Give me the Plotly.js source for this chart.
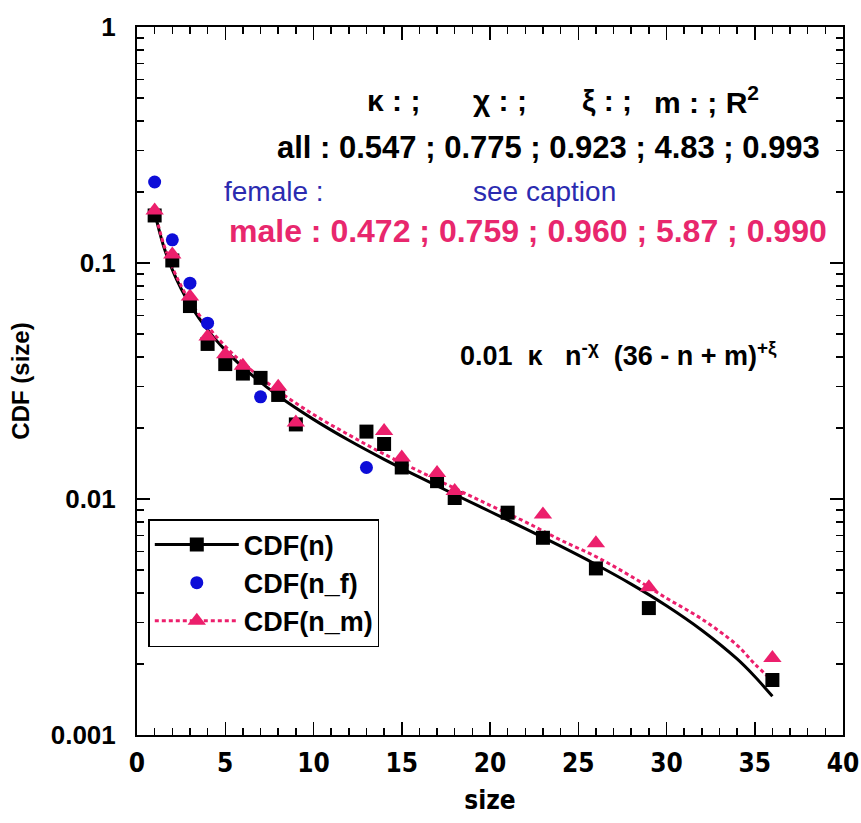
<!DOCTYPE html>
<html>
<head>
<meta charset="utf-8">
<script src="https://cdn.plot.ly/plotly-3.0.1.min.js"></script>
<style>
html,body{margin:0;padding:0;background:#fff;}
#chart{width:861px;height:823px;}
</style>
</head>
<body>
<div id="chart"></div>
<script>
// ---- data ----
var sizeAll = [1, 2, 3, 4, 5, 6, 7, 8, 9, 13, 14, 15, 17, 18, 21, 23, 26, 29, 36];
var cdfAll  = [0.159, 0.1025, 0.0657, 0.0454, 0.0373, 0.0340, 0.0326, 0.0276, 0.0207, 0.0193, 0.0171, 0.0136, 0.0119, 0.0101, 0.00875, 0.00685, 0.00508, 0.00345, 0.00171];

var sizeF = [1, 2, 3, 4, 7, 13];
var cdfF  = [0.2204, 0.1254, 0.0821, 0.0556, 0.0271, 0.0136];

var sizeM = [1, 2, 3, 4, 5, 6, 8, 9, 14, 15, 17, 18, 23, 26, 29, 36];
var cdfM  = [0.167, 0.1086, 0.0721, 0.0488, 0.0411, 0.0367, 0.0299, 0.0211, 0.0194, 0.0150, 0.0129, 0.0108, 0.0086, 0.0065, 0.00423, 0.00212];

// fitted curves as drawn
var fitSize = [1, 1.5, 2, 2.5, 3, 4, 5, 6, 8, 10, 12, 14, 16, 18, 20, 22, 24, 26, 28, 30, 32, 34, 35, 36];
var fitAll  = [0.164, 0.1184, 0.0937, 0.0778, 0.0668, 0.0521, 0.04275, 0.03615, 0.02738, 0.02175, 0.01774, 0.01473, 0.01237, 0.01045, 0.00885, 0.00749, 0.00631, 0.00528, 0.00436, 0.00353, 0.00278, 0.00210, 0.00177, 0.00146];
var fitMale = [0.1663, 0.1208, 0.0960, 0.0800, 0.0688, 0.0540, 0.0444, 0.0377, 0.0287, 0.0228, 0.0187, 0.0155, 0.0131, 0.0111, 0.0094, 0.0080, 0.0067, 0.0057, 0.0047, 0.0038, 0.0031, 0.0024, 0.0020, 0.0017];

var xTicks = [0, 5, 10, 15, 20, 25, 30, 35, 40];
var yTicks = [0.001, 0.01, 0.1, 1];
var yTickText = ["0.001", "0.01", "0.1", "1"];
var yMinor = [0.002,0.003,0.004,0.005,0.006,0.007,0.008,0.009,
              0.02,0.03,0.04,0.05,0.06,0.07,0.08,0.09,
              0.2,0.3,0.4,0.5,0.6,0.7,0.8,0.9];

var legendNames = ["CDF(n)", "CDF(n_f)", "CDF(n_m)"];

var BLACK = "#000000", BLUE = "#0d0dd8", PINK = "#ec1f6c";
var BLUE_TXT = "#2b2bb0", PINK_TXT = "#e8276d";
var NB = "\u00A0";

var traces = [
  {x: fitSize, y: fitAll, mode: "lines", line: {color: BLACK, width: 3, shape: "spline"}, showlegend: false, hoverinfo: "skip"},
  {x: fitSize, y: fitMale, mode: "lines", line: {color: PINK, width: 3, dash: "4px,3px", shape: "spline"}, showlegend: false, hoverinfo: "skip"},
  {x: sizeAll, y: cdfAll, mode: "markers", marker: {symbol: "square", size: 14, color: BLACK}, showlegend: false},
  {x: sizeM, y: cdfM, mode: "markers", marker: {symbol: "triangle-up", size: 16, color: PINK}, showlegend: false},
  {x: sizeF, y: cdfF, mode: "markers", marker: {symbol: "circle", size: 13, color: BLUE}, showlegend: false},
  // legend entries
  {x: [null], y: [null], name: legendNames[0], mode: "lines+markers", line: {color: BLACK, width: 3}, marker: {symbol: "square", size: 14, color: BLACK}},
  {x: [null], y: [null], name: legendNames[1], mode: "markers", marker: {symbol: "circle", size: 13, color: BLUE}},
  {x: [null], y: [null], name: legendNames[2], mode: "lines+markers", line: {color: PINK, width: 3, dash: "4px,3px"}, marker: {symbol: "triangle-up", size: 16, color: PINK}}
];

function f(c, s, w) { return {family: "Liberation Sans, Arial, sans-serif", size: s || 30, color: c, weight: w || "bold"}; }
var yRow1 = Math.log10(0.49), yRow2 = Math.log10(0.31), yRow3 = Math.log10(0.2), yRow4 = Math.log10(0.136);

var annotations = [
  {x: 12.9, y: yRow1, xref: "x", yref: "y", text: "κ" + NB + ": ;", showarrow: false, xanchor: "left", font: f(BLACK, 30)},
  {x: 18.9, y: yRow1, xref: "x", yref: "y", text: "χ" + NB + ": ;", showarrow: false, xanchor: "left", font: f(BLACK, 30)},
  {x: 25.1, y: yRow1, xref: "x", yref: "y", text: "ξ" + NB + ": ;", showarrow: false, xanchor: "left", font: f(BLACK, 30)},
  {x: 29.2, y: yRow1, xref: "x", yref: "y", text: "m" + NB + ": ; R<sup>2</sup>", showarrow: false, xanchor: "left", font: f(BLACK, 30)},
  {x: 38.8, y: yRow2, xref: "x", yref: "y", text: "all : 0.547 ; 0.775 ; 0.923 ; 4.83 ; 0.993", showarrow: false, xanchor: "right", font: f(BLACK, 31)},
  {x: 4.8, y: yRow3, xref: "x", yref: "y", text: "female :", showarrow: false, xanchor: "left", font: f(BLUE_TXT, 28, "normal")},
  {x: 18.9, y: yRow3, xref: "x", yref: "y", text: "see caption", showarrow: false, xanchor: "left", font: f(BLUE_TXT, 28, "normal")},
  {x: 39.2, y: yRow4, xref: "x", yref: "y", text: "male : 0.472 ; 0.759 ; 0.960 ; 5.87 ; 0.990", showarrow: false, xanchor: "right", font: f(PINK_TXT, 32)},
  {x: 18.2, y: Math.log10(0.041), xref: "x", yref: "y",
   text: "0.01" + NB + NB + "κ" + NB + NB + NB + "n<sup>-χ</sup>" + NB + NB + "(36 - n + m)<sup>+ξ</sup>",
   showarrow: false, xanchor: "left", font: f(BLACK, 27)}
];

var layout = {
  width: 861, height: 823,
  margin: {l: 137, r: 18, t: 27, b: 88},
  paper_bgcolor: "#ffffff", plot_bgcolor: "#ffffff",
  showlegend: true,
  legend: {
    x: 0.016, y: 0.305, xanchor: "left", yanchor: "top",
    bgcolor: "#ffffff", bordercolor: BLACK, borderwidth: 1.5,
    font: {family: "Liberation Sans, Arial, sans-serif", size: 27, color: BLACK, weight: "bold"},
    itemwidth: 84, tracegroupgap: 0
  },
  xaxis: {
    range: [0, 40], tickmode: "array", tickvals: xTicks, ticktext: xTicks.map(String),
    ticks: "inside", ticklen: 13, tickwidth: 1.5, tickcolor: BLACK,
    minor: {dtick: 1, tick0: 0, ticks: "inside", ticklen: 7, tickwidth: 1.5, tickcolor: BLACK},
    showline: true, linewidth: 2, linecolor: BLACK, mirror: "ticks",
    showgrid: false, zeroline: false, ticklabelstandoff: 4,
    tickfont: {family: "Liberation Sans Narrow, DejaVu Sans Condensed, Liberation Sans, Arial, sans-serif", size: 26, color: BLACK, weight: "bold"},
    title: {text: "size", standoff: 14, font: {family: "Liberation Sans Narrow, DejaVu Sans Condensed, Liberation Sans, Arial, sans-serif", size: 26, color: BLACK, weight: "bold"}}
  },
  yaxis: {
    type: "log", range: [-3, 0], tickmode: "array", tickvals: yTicks, ticktext: yTickText,
    ticks: "inside", ticklen: 13, tickwidth: 1.5, tickcolor: BLACK,
    minor: {tickmode: "array", tickvals: yMinor, ticks: "inside", ticklen: 7, tickwidth: 1.5, tickcolor: BLACK},
    showline: true, linewidth: 2, linecolor: BLACK, mirror: "ticks",
    showgrid: false, zeroline: false, ticklabelstandoff: 14,
    tickfont: {family: "Liberation Sans, Arial, sans-serif", size: 26, color: BLACK, weight: "bold"},
    title: {text: "CDF (size)", standoff: 14, font: {family: "Liberation Sans, Arial, sans-serif", size: 24, color: BLACK, weight: "bold"}}
  },
  annotations: annotations
};

Plotly.newPlot("chart", traces, layout, {displayModeBar: false, staticPlot: true});
</script>
</body>
</html>
